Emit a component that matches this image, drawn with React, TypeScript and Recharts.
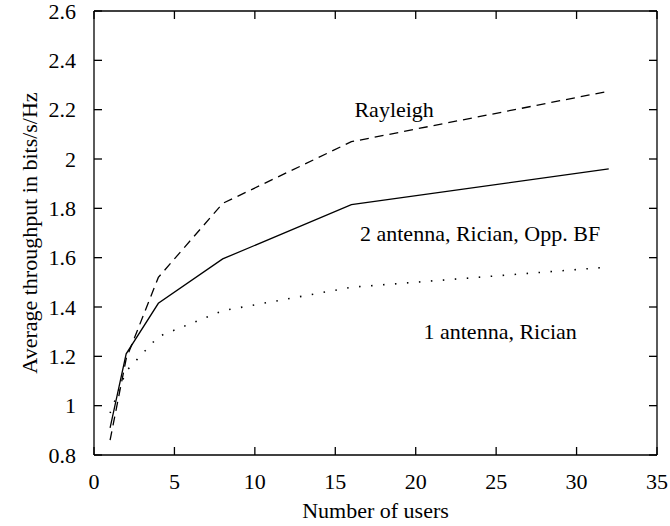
import React from 'react';
import {
  LineChart, Line, XAxis, YAxis, ReferenceDot, Label
} from 'recharts';

// number of users
const users = [1, 2, 4, 8, 16, 32];
// average throughput (bits/s/Hz)
const rayleigh = [0.86, 1.19, 1.52, 1.82, 2.07, 2.275];
const twoAntenna = [0.91, 1.21, 1.415, 1.595, 1.815, 1.96];
const oneAntenna = [0.97, 1.14, 1.28, 1.385, 1.48, 1.562];

const xTicks = [0, 5, 10, 15, 20, 25, 30, 35];
const yTicks = [0.8, 1, 1.2, 1.4, 1.6, 1.8, 2, 2.2, 2.4, 2.6];

const notes = [
  { text: 'Rayleigh', x: 18.66, y: 2.2 },
  { text: '2 antenna, Rician, Opp. BF', x: 24.0, y: 1.7 },
  { text: '1 antenna, Rician', x: 25.25, y: 1.3 },
];

const data = users.map((u, i) => ({
  users: u,
  rayleigh: rayleigh[i],
  two: twoAntenna[i],
  one: oneAntenna[i],
}));

const FONT = '"Liberation Serif", "Times New Roman", serif';
const FS = 22;
const txt: React.CSSProperties = { fontFamily: FONT, fontSize: FS, fill: '#000' };

const fmtY = (v: number) => String(Math.round(v * 10) / 10);

const XTick = (p: any) => (
  <text x={p.x} y={p.y} dy={16} textAnchor="middle" style={txt}>
    {p.payload.value}
  </text>
);

const YTick = (p: any) => (
  <text x={p.x} y={p.y} dy={7.5} textAnchor="end" style={txt}>
    {fmtY(p.payload.value)}
  </text>
);

// mirror axes: tick marks only
const NoTick = () => <g />;

export default function App() {
  return (
    <div style={{ position: 'absolute', left: 0, top: 0, background: '#fff' }}>
      <LineChart width={670} height={526} data={data} style={{ fontFamily: FONT }}
        margin={{ top: 10, right: 12, bottom: 21, left: 0 }}>
        <XAxis xAxisId="b" dataKey="users" type="number" domain={[0, 35]} ticks={xTicks}
          orientation="bottom" height={50} stroke="#000" strokeWidth={1.3}
          tickSize={-8} tickMargin={26} tick={XTick} interval={0}>
          <Label content={(p: any) => {
            const vb = p.viewBox || {};
            return (
              <text x={(vb.x || 0) + (vb.width || 0) / 2} y={(vb.y || 0) + 63} textAnchor="middle" style={txt}>
                Number of users
              </text>
            );
          }} />
        </XAxis>
        <XAxis xAxisId="t" dataKey="users" type="number" domain={[0, 35]} ticks={xTicks}
          orientation="top" height={1} stroke="#000" strokeWidth={1.3}
          tickSize={-8} tick={NoTick} interval={0} />
        <YAxis yAxisId="l" type="number" domain={[0.8, 2.6]} ticks={yTicks}
          orientation="left" width={94} stroke="#000" strokeWidth={1.3}
          tickSize={-8} tickMargin={26} tick={YTick} interval={0}>
          <Label content={(p: any) => {
            const vb = p.viewBox || {};
            const cx = 37;
            const cy = (vb.y || 0) + (vb.height || 0) / 2;
            return (
              <text x={cx} y={cy} transform={`rotate(-90 ${cx} ${cy})`} textAnchor="middle" style={txt}>
                Average throughput in bits/s/Hz
              </text>
            );
          }} />
        </YAxis>
        <YAxis yAxisId="r" type="number" domain={[0.8, 2.6]} ticks={yTicks}
          orientation="right" width={1} stroke="#000" strokeWidth={1.3}
          tickSize={-8} tick={NoTick} interval={0} />

        <Line xAxisId="b" yAxisId="l" dataKey="rayleigh" type="linear" stroke="#000"
          strokeWidth={1.3} strokeDasharray="9 6" dot={false} isAnimationActive={false} />
        <Line xAxisId="b" yAxisId="l" dataKey="two" type="linear" stroke="#000"
          strokeWidth={1.3} dot={false} isAnimationActive={false} />
        <Line xAxisId="b" yAxisId="l" dataKey="one" type="linear" stroke="#000"
          strokeWidth={1.6} strokeDasharray="1.5 10.5" dot={false} isAnimationActive={false} />
        {/* invisible series so the mirror axes get their ticks */}
        <Line xAxisId="t" yAxisId="r" dataKey="two" type="linear" stroke="none"
          dot={false} activeDot={false} legendType="none" isAnimationActive={false} />

        {notes.map(n => (
          <ReferenceDot key={n.text} xAxisId="b" yAxisId="l" x={n.x} y={n.y} r={0}
            stroke="none" fill="none"
            label={(p: any) => {
              const vb = p.viewBox || {};
              const cx = (vb.x || 0) + (vb.width || 0) / 2;
              const cy = (vb.y || 0) + (vb.height || 0) / 2;
              return (
                <text x={cx} y={cy} dy={7.5} textAnchor="middle" style={txt}>
                  {n.text}
                </text>
              );
            }} />
        ))}
      </LineChart>
    </div>
  );
}
